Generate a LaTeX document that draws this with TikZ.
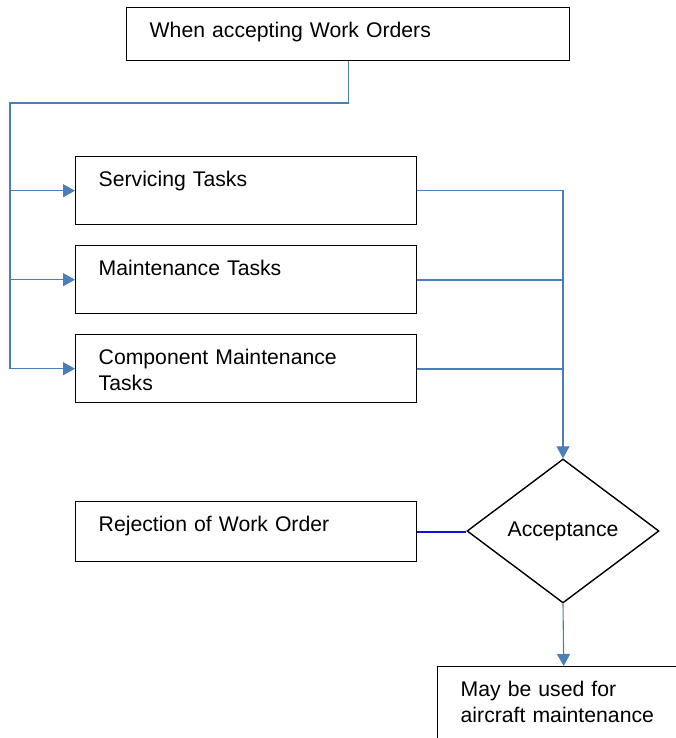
\documentclass[tikz,border=0pt]{standalone}
\usepackage{fontspec}
\setmainfont{Liberation Sans}
\usetikzlibrary{positioning, arrows.meta, shapes.geometric}
\definecolor{linkblue}{HTML}{4A7EBB}
\definecolor{rejblue}{HTML}{1010E0}

\begin{document}
\begin{tikzpicture}[x=1pt, y=-1pt,
    font=\fontsize{21.2}{25.5}\selectfont,
    box/.style={draw, line width=1.4pt, anchor=north west, inner sep=0pt, inner xsep=23pt, align=left, text height=30pt},
    task/.style={box, text width=295pt, text depth=38pt},
    decision/.style={draw, diamond, line width=1.4pt, inner sep=0pt, minimum width=192pt, minimum height=144pt, aspect=1.333},
    link/.style={draw=linkblue, line width=1.1pt},
    tip/.style={link, -{Triangle[length=12pt, width=13pt]}}]
    \clip (0,0) rectangle (676,738);

    % Start
    \node[box, text width=397pt, text depth=23pt] (top) at (126,7) {When accepting Work Orders};
    \coordinate (split) at (10,103);

    % Task types
    \node[task] (serv) at (75,156) {Servicing Tasks};
    \node[task, below=19.6pt of serv.south west, anchor=north west] (mnt) {Maintenance Tasks};
    \node[task, below=19.6pt of mnt.south west, anchor=north west] (cmp) {Component Maintenance\\Tasks};

    % Decision
    \node[decision] (acc) at (563,531) {Acceptance};
    \node[task, text depth=30pt] (rej) at (75,501) {Rejection of Work Order};
    \node[box, text width=206pt, text depth=60pt] (use) at (437,666) {May be used for\\aircraft maintenance};

    % Connectors
    \draw[link] (top.south) |- (split) -- (split |- cmp.west);
    \draw[tip] (split |- serv.west) -- (serv.west);
    \draw[tip] (split |- mnt.west) -- (mnt.west);
    \draw[tip] (split |- cmp.west) -- (cmp.west);
    \draw[tip] (serv.east) -| (acc.north);
    \draw[link, line width=1.6pt] (mnt.east) -- (mnt.east -| acc.north);
    \draw[link, line width=1.6pt] (cmp.east) -- (cmp.east -| acc.north);
    \draw[draw=rejblue, line width=1.8pt] (rej.east) -- (rej.east -| acc.west); % rejected orders
    \draw[tip] (acc.south) -- (use.north);
\end{tikzpicture}
\end{document}
